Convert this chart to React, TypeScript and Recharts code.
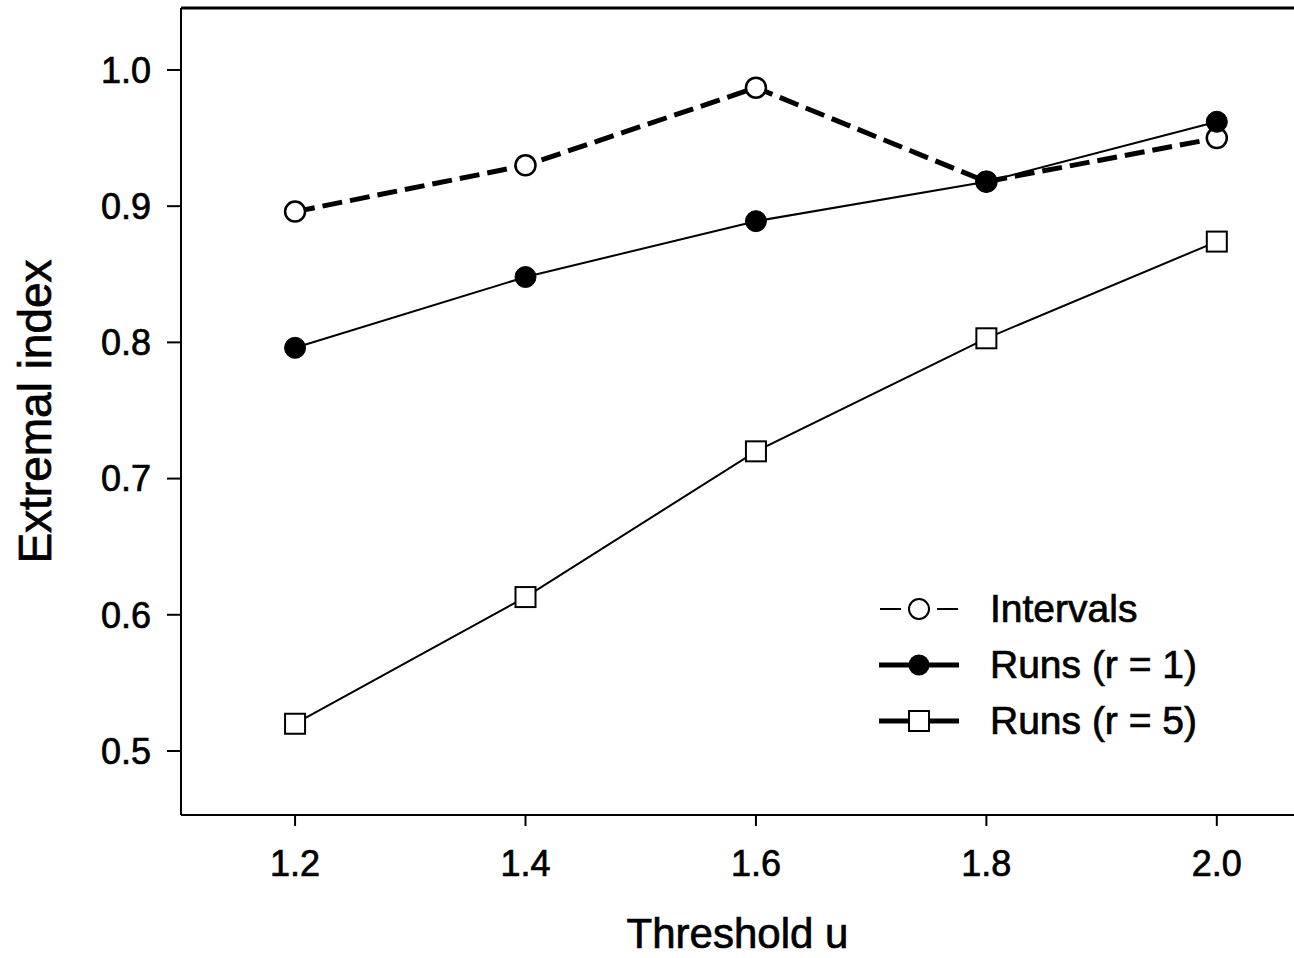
import React from 'react';
import { LineChart, Line, XAxis, YAxis, ReferenceLine, Legend } from 'recharts';

const thresholds = [1.2, 1.4, 1.6, 1.8, 2.0];
const intervals = [0.896, 0.930, 0.987, 0.918, 0.950];
const runsR1 = [0.796, 0.848, 0.889, 0.918, 0.962];
const runsR5 = [0.520, 0.613, 0.720, 0.803, 0.874];

const xTicks = [1.2, 1.4, 1.6, 1.8, 2.0];
const yTicks = [0.5, 0.6, 0.7, 0.8, 0.9, 1.0];

const X_MIN = 1.101;
const X_MAX = 2.067;
const Y_MIN = 0.453;
const Y_MAX = 1.0455;

const FONT = '"Liberation Sans", Arial, sans-serif';

const data = thresholds.map((u, i) => ({
  u,
  intervals: intervals[i],
  runs1: runsR1[i],
  runs5: runsR5[i],
}));

const openCircle = (props: any) => (
  <circle key={`oc-${props.index}`} cx={props.cx} cy={props.cy} r={10} fill="#fff" stroke="#000" strokeWidth={2.5} />
);

const filledCircle = (props: any) => (
  <circle key={`fc-${props.index}`} cx={props.cx} cy={props.cy} r={10.5} fill="#000" stroke="#000" strokeWidth={1} />
);

const openSquare = (props: any) => (
  <rect key={`sq-${props.index}`} x={props.cx - 10} y={props.cy - 10} width={20} height={20} fill="#fff" stroke="#000" strokeWidth={2} />
);

const legendItems = [
  { label: 'Intervals', kind: 'circle' },
  { label: 'Runs (r = 1)', kind: 'filled' },
  { label: 'Runs (r = 5)', kind: 'square' },
];

const LegendIcon = ({ kind }: { kind: string }) => (
  <svg width={84} height={56}>
    {kind === 'circle' ? (
      <>
        <line x1={2} y1={28} x2={23} y2={28} stroke="#000" strokeWidth={2} />
        <line x1={59} y1={28} x2={80} y2={28} stroke="#000" strokeWidth={2} />
        <circle cx={41} cy={28} r={10} fill="#fff" stroke="#000" strokeWidth={2} />
      </>
    ) : kind === 'filled' ? (
      <>
        <line x1={1} y1={28} x2={81} y2={28} stroke="#000" strokeWidth={5} />
        <circle cx={41} cy={28} r={10.5} fill="#000" />
      </>
    ) : (
      <>
        <line x1={1} y1={28} x2={81} y2={28} stroke="#000" strokeWidth={5} />
        <rect x={31} y={18} width={20} height={20} fill="#fff" stroke="#000" strokeWidth={2} />
      </>
    )}
  </svg>
);

const renderLegend = () => (
  <div style={{ fontFamily: FONT, fontSize: 39, color: '#000', WebkitTextStroke: '0.7px #000' }}>
    {legendItems.map((it) => (
      <div key={it.label} style={{ display: 'flex', alignItems: 'center', height: 56 }}>
        <LegendIcon kind={it.kind} />
        <span style={{ marginLeft: 28 }}>{it.label}</span>
      </div>
    ))}
  </div>
);

const tickStyle = { fill: '#000', stroke: '#000', strokeWidth: 0.7, fontSize: 36, fontFamily: FONT };

export default function App() {
  return (
    <div>
      <style>{'body{margin:0;background:#fff}'}</style>
      <LineChart width={1294} height={958} data={data} margin={{ top: 8, right: 0, bottom: 0, left: 0 }}>
        <XAxis
          dataKey="u"
          type="number"
          domain={[X_MIN, X_MAX]}
          ticks={xTicks}
          allowDataOverflow
          tickFormatter={(v: number) => v.toFixed(1)}
          height={143}
          tickSize={11}
          tickMargin={24}
          axisLine={{ stroke: '#000', strokeWidth: 2 }}
          tickLine={{ stroke: '#000', strokeWidth: 2 }}
          tick={tickStyle}
          label={{
            value: 'Threshold u',
            position: 'insideBottom',
            offset: 10,
            fill: '#000',
            stroke: '#000',
            strokeWidth: 0.7,
            fontSize: 42,
            fontFamily: FONT,
          }}
        />
        <YAxis
          type="number"
          domain={[Y_MIN, Y_MAX]}
          ticks={yTicks}
          allowDataOverflow
          tickFormatter={(v: number) => v.toFixed(1)}
          width={181}
          tickSize={14}
          tickMargin={16}
          axisLine={{ stroke: '#000', strokeWidth: 2 }}
          tickLine={{ stroke: '#000', strokeWidth: 2 }}
          tick={tickStyle}
          label={{
            value: 'Extremal index',
            angle: -90,
            position: 'insideLeft',
            offset: 35,
            fill: '#000',
            stroke: '#000',
            strokeWidth: 0.7,
            fontSize: 46,
            fontFamily: FONT,
            style: { textAnchor: 'middle' },
          }}
        />
        <ReferenceLine y={Y_MAX} stroke="#000" strokeWidth={3} />
        <Line
          type="linear"
          dataKey="intervals"
          stroke="#000"
          strokeWidth={5}
          strokeDasharray="20 8"
          dot={openCircle}
          activeDot={false}
          isAnimationActive={false}
        />
        <Line
          type="linear"
          dataKey="runs1"
          stroke="#000"
          strokeWidth={2}
          dot={filledCircle}
          activeDot={false}
          isAnimationActive={false}
        />
        <Line
          type="linear"
          dataKey="runs5"
          stroke="#000"
          strokeWidth={2}
          dot={openSquare}
          activeDot={false}
          isAnimationActive={false}
        />
        <Legend
          layout="vertical"
          align="center"
          verticalAlign="middle"
          content={renderLegend}
          wrapperStyle={{ position: 'absolute', left: 878, top: 581, width: 'auto' }}
        />
      </LineChart>
    </div>
  );
}
